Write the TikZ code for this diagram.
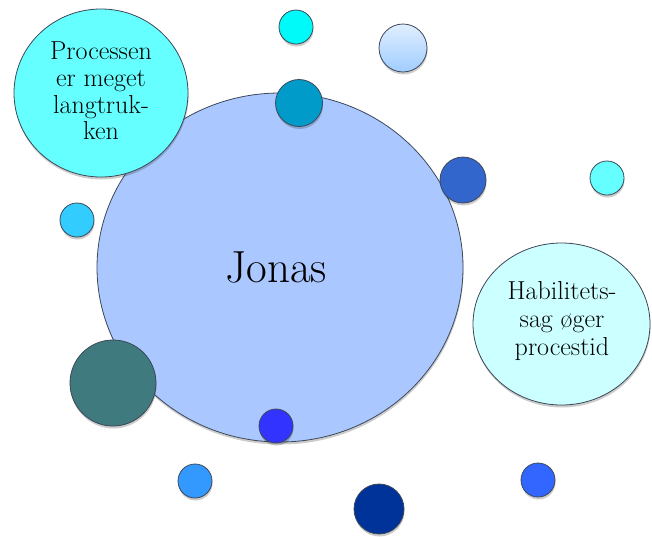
\documentclass[tikz,border=0pt]{standalone}
\usetikzlibrary{shapes.geometric,shadows}
\definecolor{bigblue}{RGB}{170,200,255}
\definecolor{procfill}{RGB}{102,255,255}
\definecolor{habfill}{RGB}{204,255,255}
\definecolor{cyanA}{RGB}{0,250,250}
\definecolor{lightTop}{RGB}{224,238,255}
\definecolor{lightBot}{RGB}{160,205,255}
\definecolor{tealA}{RGB}{0,155,200}
\definecolor{blueR}{RGB}{51,102,204}
\definecolor{cyanR}{RGB}{102,255,255}
\definecolor{skyL}{RGB}{51,204,255}
\definecolor{tealBig}{RGB}{63,122,126}
\definecolor{blueIn}{RGB}{51,51,255}
\definecolor{blueLL}{RGB}{51,153,255}
\definecolor{navy}{RGB}{0,51,153}
\definecolor{blueBR}{RGB}{51,102,255}
\definecolor{edge}{RGB}{60,72,88}
\tikzset{
  bubble/.style={circle, draw=edge, line width=0.8pt, inner sep=0pt,
    drop shadow={shadow xshift=0.5pt, shadow yshift=-2.5pt, opacity=0.2, fill=black}},
  oval/.style={ellipse, draw=edge, line width=0.8pt, inner sep=0pt, align=center,
    drop shadow={shadow xshift=0.5pt, shadow yshift=-2.5pt, opacity=0.2, fill=black}},
  label text/.style={font=\fontsize{26}{26.7}\selectfont, align=center}
}
\begin{document}
\begin{tikzpicture}[x=1pt,y=-1pt]
\useasboundingbox (0,0) rectangle (652,536);
% central ellipse
\node[oval, fill=bigblue, minimum width=366pt, minimum height=349pt] (jonas) at (280,267.5) {};
\node[anchor=base, font=\fontsize{45}{50}\selectfont] (jonastext) at (276,282) {Jonas};
% text bubbles
\node[oval, fill=procfill, minimum width=174pt, minimum height=168pt] (proc) at (101,93) {};
\node[label text] (proctext) at (101,91) {Processen\\er meget\\langtruk-\\ken};
\node[oval, fill=habfill, minimum width=177pt, minimum height=162pt] (hab) at (561.5,324) {};
\node[label text, font=\fontsize{26}{28}\selectfont] (habtext) at (562,321) {Habilitets-\\sag øger\\procestid};
% small bubbles
\node[bubble, fill=cyanA, minimum size=34pt] (c1) at (296,27) {};
\node[bubble, top color=lightTop, bottom color=lightBot, minimum size=48pt] (c2) at (403,48) {};
\node[bubble, fill=tealA, minimum size=47pt] (c3) at (299,103) {};
\node[bubble, fill=blueR, minimum size=46pt] (c4) at (463,180) {};
\node[bubble, fill=cyanR, minimum size=34pt] (c5) at (607,178) {};
\node[bubble, fill=skyL, minimum size=34pt] (c6) at (77,220) {};
\node[bubble, fill=tealBig, minimum size=86pt] (c7) at (113,383) {};
\node[bubble, fill=blueIn, minimum size=34pt] (c8) at (276,426) {};
\node[bubble, fill=blueLL, minimum size=34pt] (c9) at (195,481) {};
\node[bubble, fill=navy, minimum size=50pt] (c10) at (379,509) {};
\node[bubble, fill=blueBR, minimum size=34pt] (c11) at (538,480) {};
\end{tikzpicture}
\end{document}
